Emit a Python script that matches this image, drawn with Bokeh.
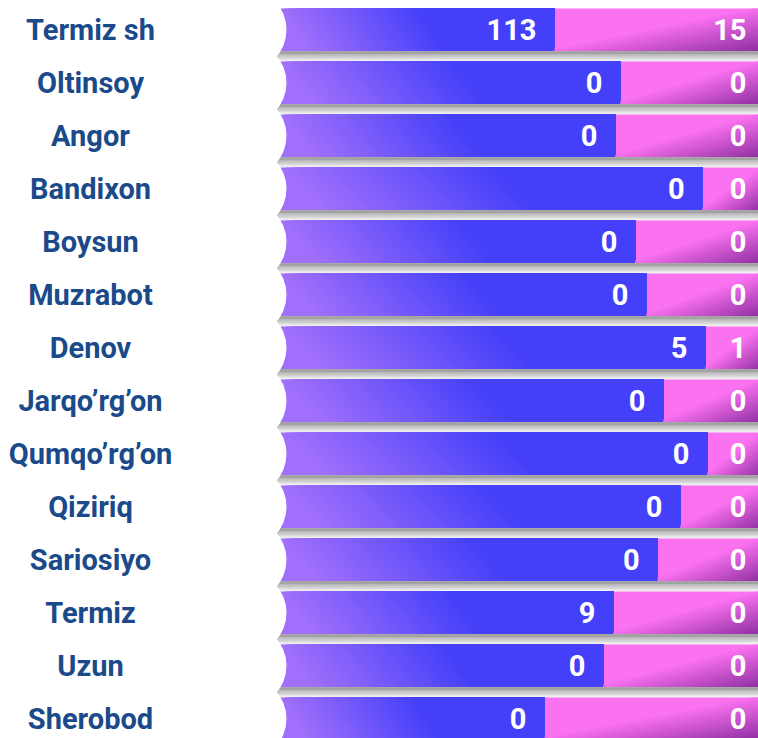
import numpy as np
from bokeh.plotting import figure
from bokeh.models import Range1d, ColumnDataSource
from bokeh.core.properties import value
from bokeh.embed import file_html
from bokeh.resources import INLINE

# ---------------- data ----------------
districts = ["Termiz sh", "Oltinsoy", "Angor", "Bandixon", "Boysun", "Muzrabot", "Denov",
             "Jarqo’rg’on", "Qumqo’rg’on", "Qiziriq", "Sariosiyo", "Termiz", "Uzun", "Sherobod"]
blue_share = [56.6, 70.2, 69.2, 87.2, 73.3, 75.6, 87.8, 79.1, 88.2, 82.6, 77.9, 68.8, 66.7, 54.5]
pink_share = [100 - b for b in blue_share]
blue_labels = ["113", "0", "0", "0", "0", "0", "5", "0", "0", "0", "0", "9", "0", "0"]
pink_labels = ["15", "0", "0", "0", "0", "0", "1", "0", "0", "0", "0", "0", "0", "0"]

# ---------------- layout / style ----------------
W, H = 758, 738
BAR_LEFT_PX = 280.0          # canvas px where bars start
PX_PER_UNIT = 4.84           # px per percent unit
TOP_PX = 8.0                 # canvas px of first bar top
ROW_PX = 53.0
BAR_PX = 42.5
BITE_R_PX = 41.5
BITE_DEPTH_PX = 6.0
LABEL_X_PX = 90.0

VIOLET = (0xA0, 0x6F, 0xFB)
BLUE = (0x44, 0x40, 0xF9)
PINK = (0xFB, 0x72, 0xF1)
PURPLE = (0x8A, 0x2C, 0x9E)
LABEL_COLOR = "#1a4a8a"

n = len(districts)
rows = list(range(n))
hh = BAR_PX / ROW_PX / 2.0

x_start = -BAR_LEFT_PX / PX_PER_UNIT
x_end = x_start + W / PX_PER_UNIT
y_top = -(BAR_PX / 2.0 + TOP_PX) / ROW_PX
y_bottom = y_top + H / ROW_PX

p = figure(width=W, height=H, x_range=Range1d(x_start, x_end),
           y_range=Range1d(y_bottom, y_top),
           output_backend="svg", toolbar_location=None, min_border=0,
           x_axis_type=None, y_axis_type=None)
p.outline_line_color = None
p.background_fill_color = "white"
p.border_fill_color = "white"


def hexc(c):
    return "#%02x%02x%02x" % tuple(int(round(v)) for v in c)


def lerp(c0, c1, t):
    t = min(max(t, 0.0), 1.0)
    return tuple(a + (b - a) * t for a, b in zip(c0, c1))


def clip(poly, a, b, c):
    # keep a*u + b*v >= c
    out = []
    m = len(poly)
    for k in range(m):
        P = poly[k]
        Q = poly[(k + 1) % m]
        fp = a * P[0] + b * P[1] - c
        fq = a * Q[0] + b * Q[1] - c
        if fp >= 0:
            out.append(P)
        if (fp >= 0) != (fq >= 0):
            t = fp / (fp - fq)
            out.append((P[0] + t * (Q[0] - P[0]), P[1] + t * (Q[1] - P[1])))
    return out


def half(a, b, lo):
    sq = [(0.0, 0.0), (1.0, 0.0), (1.0, 1.0), (0.0, 1.0)]
    return clip(sq, a, b, lo)


# ---------------- shadows ----------------
shadow_cols = ["#a8a8a8", "#a2a2a2", "#a3a3a3", "#a9a9a9", "#b3b3b3",
               "#bfbfbf", "#cbcbcb", "#d7d7d7", "#e2e2e2", "#ececec"]
sh_l, sh_r, sh_b, sh_t, sh_c = [], [], [], [], []
for i in rows[:-1]:
    y0 = i + hh
    y1 = i + 1 - hh
    step = (y1 - y0) / len(shadow_cols)
    for k, col in enumerate(shadow_cols):
        sh_l.append(x_start + (BAR_LEFT_PX - 12) / PX_PER_UNIT)
        sh_r.append(x_end + 5)
        sh_t.append(y0 + k * step)
        sh_b.append(y0 + (k + 1) * step + 0.002)
        sh_c.append(col)
p.quad(left=sh_l, right=sh_r, top=sh_t, bottom=sh_b, fill_color=sh_c, line_color=None)

# ---------------- bars ----------------
blue_left = [0.0] * n
blue_right = blue_share
pink_left = blue_share
pink_right = [b + q for b, q in zip(blue_share, pink_share)]
tops = [i - hh for i in rows]
bottoms = [i + hh for i in rows]

p.quad(left=blue_left, right=blue_right, top=tops, bottom=bottoms,
       fill_color=hexc(VIOLET), line_color=None)
p.quad(left=pink_left, right=pink_right, top=tops, bottom=bottoms,
       fill_color=hexc(PINK), line_color=None)

# gradient overlays: nested half-planes drawn in order (no seams)
xs_all, ys_all, cols_all = [], [], []
NB = 40
NP = 28
for i in rows:
    # blue: violet -> blue, s = u - 0.1 v, t = s / 0.5
    xa, xb = blue_left[i], blue_right[i]
    for k in range(1, NB + 1):
        poly = half(1.0, -0.1, (k / NB) * 0.5)
        if len(poly) < 3:
            continue
        col = hexc(lerp(VIOLET, BLUE, k / NB))
        xs_all.append([xa + u * (xb - xa) for u, v in poly])
        ys_all.append([tops[i] + v * (bottoms[i] - tops[i]) for u, v in poly])
        cols_all.append(col)
    # pink: s = u + v, t = (s/2 - 0.45)/0.55
    xa, xb = pink_left[i], pink_right[i]
    for k in range(1, NP + 1):
        poly = half(1.0, 1.0, 2 * (0.45 + 0.55 * k / NP))
        if len(poly) < 3:
            continue
        col = hexc(lerp(PINK, PURPLE, k / NP))
        xs_all.append([xa + u * (xb - xa) for u, v in poly])
        ys_all.append([tops[i] + v * (bottoms[i] - tops[i]) for u, v in poly])
        cols_all.append(col)

p.patches(xs=xs_all, ys=ys_all, fill_color=cols_all, line_color=None)

# concave left ends
bite_x = (BITE_DEPTH_PX - BITE_R_PX) / PX_PER_UNIT
p.circle(x=[bite_x] * n, y=rows, radius=BITE_R_PX, radius_units="screen",
         fill_color="white", line_color=None)

# ---------------- texts ----------------
p.text(x=[x_start + LABEL_X_PX / PX_PER_UNIT] * n, y=rows, text=districts,
       text_align="center", text_baseline="middle",
       text_font=value("Roboto"), text_font_style="bold",
       text_font_size="29px", text_color=LABEL_COLOR)

p.text(x=blue_right, y=rows, text=blue_labels, x_offset=-18,
       text_align="right", text_baseline="middle",
       text_font=value("Roboto"), text_font_style="bold",
       text_font_size="29px", text_color="white")
p.text(x=pink_right, y=rows, text=pink_labels, x_offset=-18,
       text_align="right", text_baseline="middle",
       text_font=value("Roboto"), text_font_style="bold",
       text_font_size="29px", text_color="white")

open("out.html", "w").write(file_html(p, INLINE))
